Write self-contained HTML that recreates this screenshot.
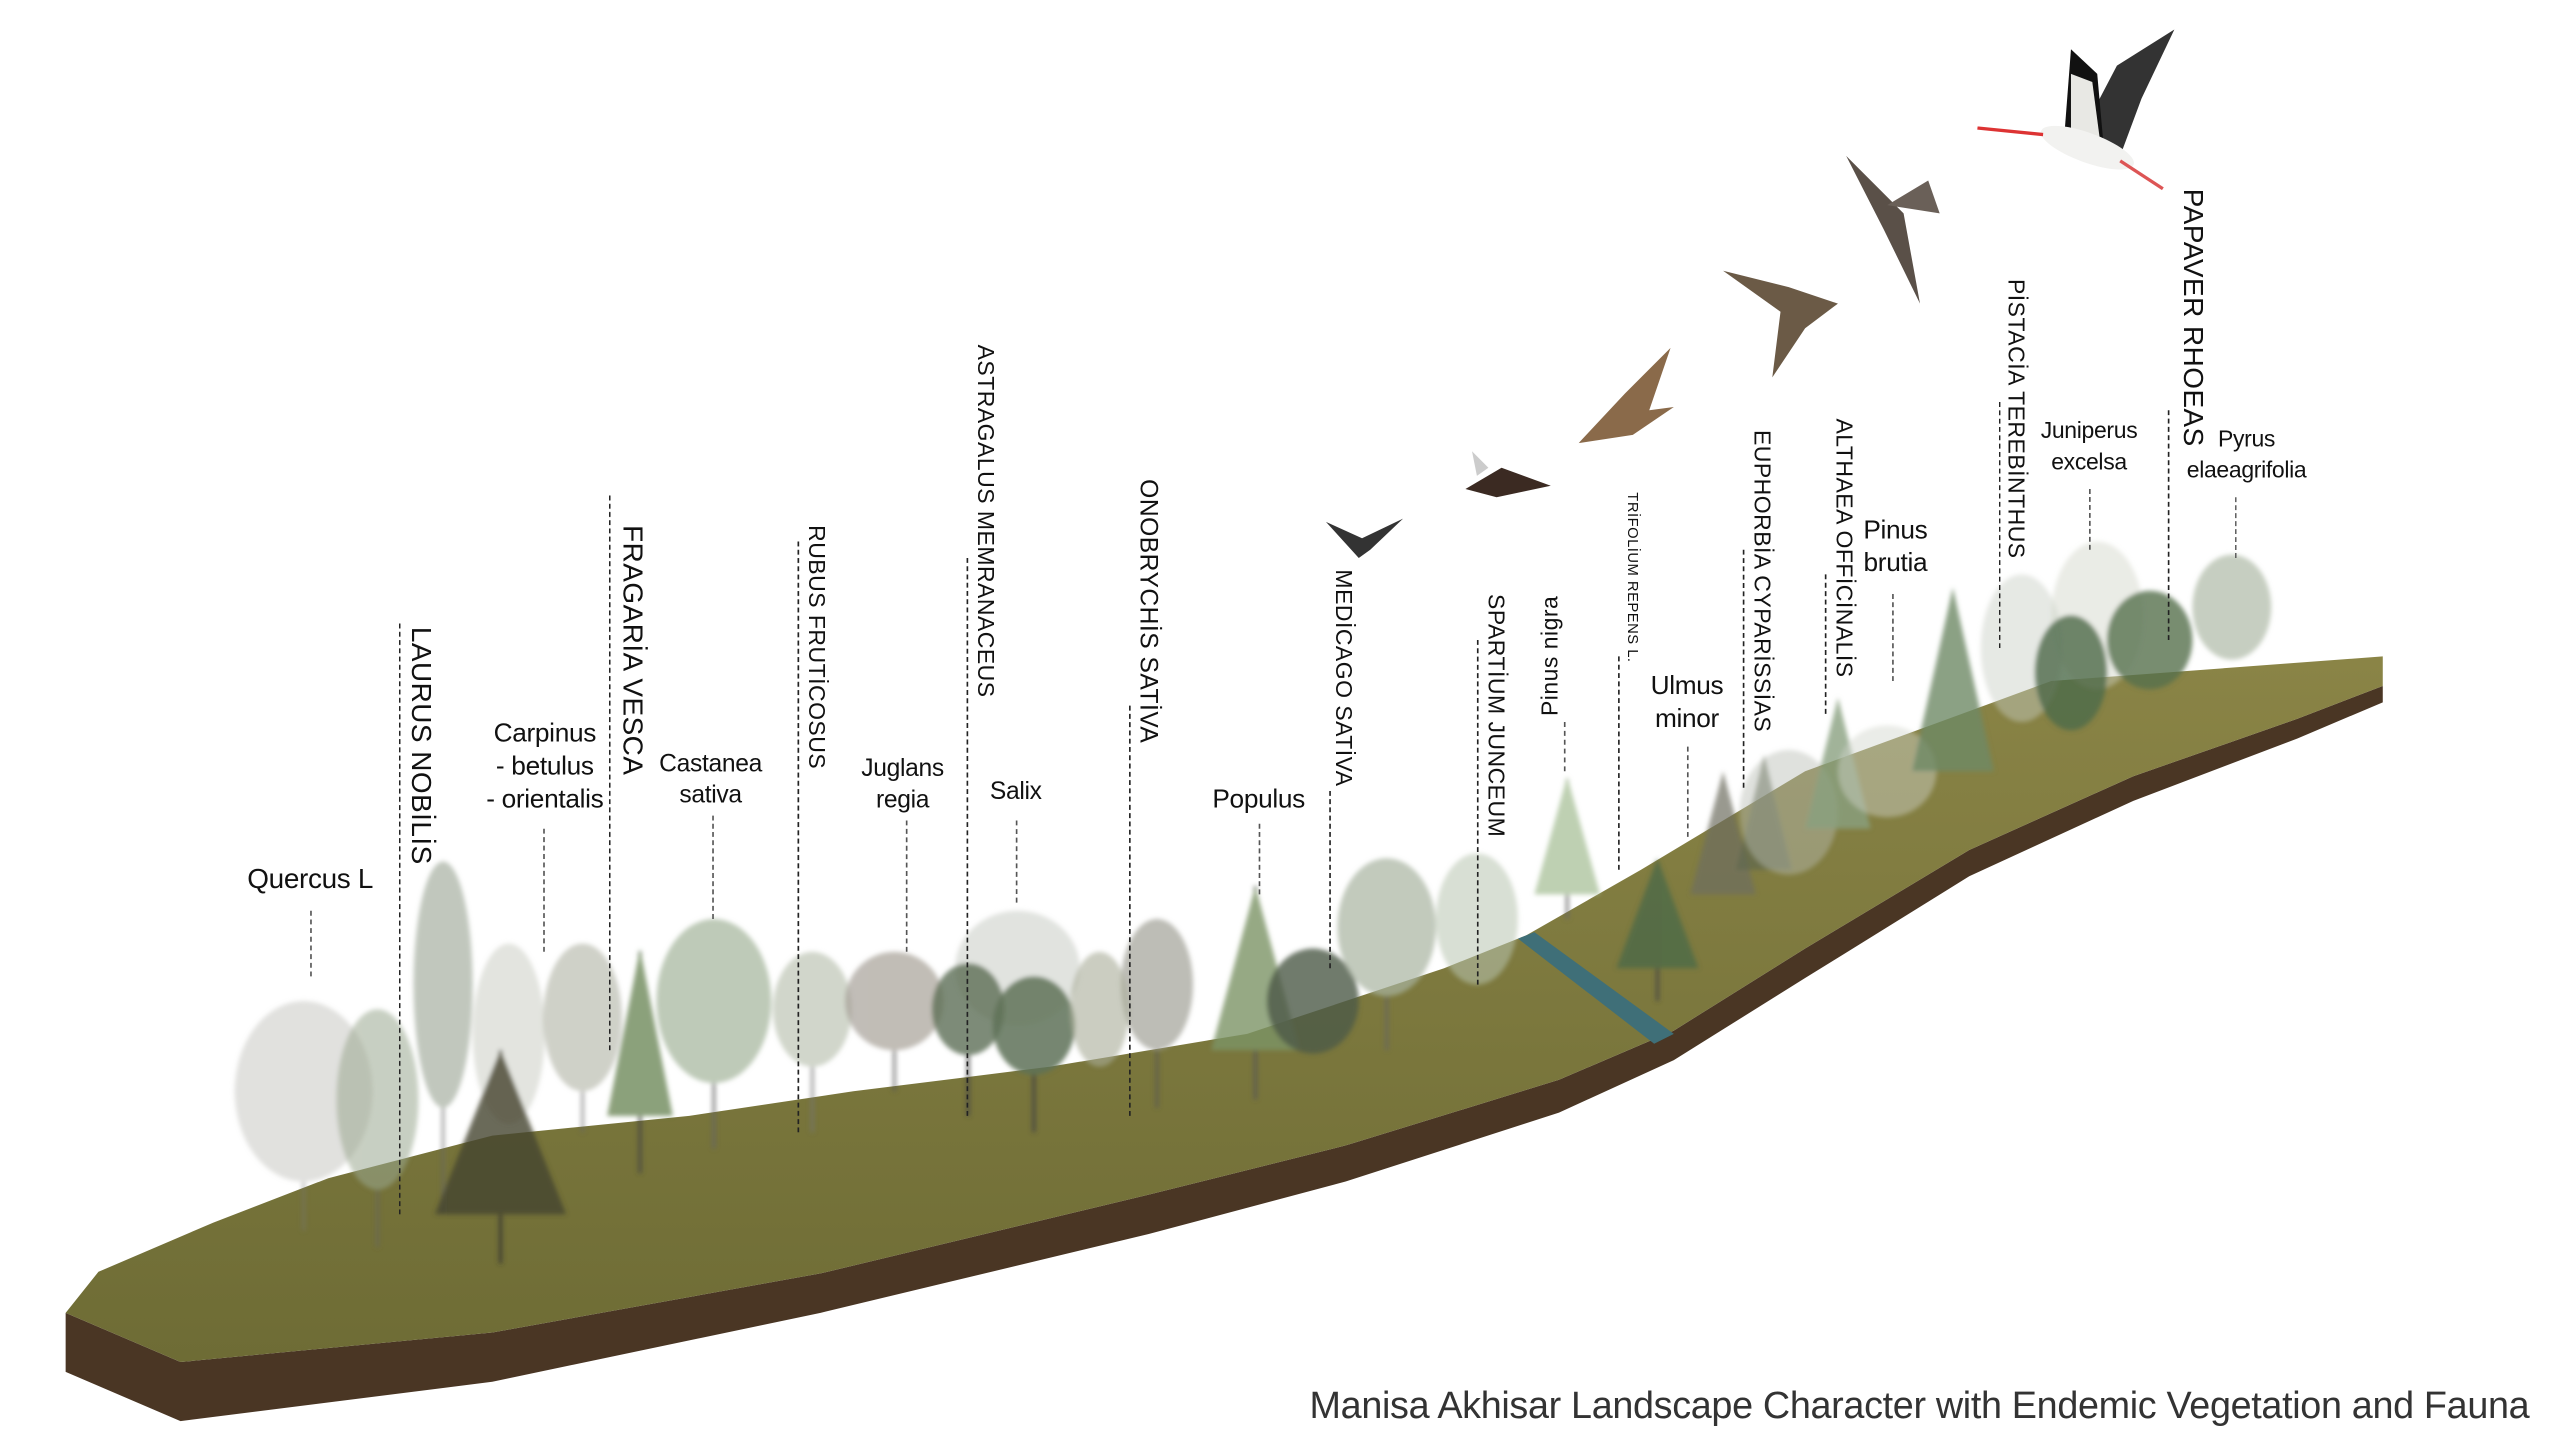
<!DOCTYPE html>
<html><head><meta charset="utf-8"><style>
html,body{margin:0;padding:0;background:#fff;overflow:hidden}
#w{position:absolute;left:0;top:0;width:1560px;height:877.5px;transform:scale(1.641026);transform-origin:0 0;font-family:"Liberation Sans",sans-serif;color:#111}
.h{position:absolute;font-size:15px;line-height:19px;text-align:center;transform:translateX(-50%);white-space:nowrap;letter-spacing:-0.2px}
.v{position:absolute;writing-mode:vertical-rl;font-size:14px;white-space:nowrap;letter-spacing:0.3px}
.d{position:absolute;width:0;border-left:1.2px dashed #222}
.t{position:absolute;border-left:1px dashed #555;width:0}
</style></head><body><div id="w">
<svg width="1560" height="878" viewBox="0 0 1560 878" style="position:absolute;left:0;top:0">
<defs>
<linearGradient id="g" x1="0" y1="0" x2="0" y2="1"><stop offset="0" stop-color="#8a8446"/><stop offset="1" stop-color="#6e6c35"/></linearGradient>
<filter id="b"><feGaussianBlur stdDeviation="1.5"/></filter>
</defs>
<path d="M40,800 L110,830 L300,812 L500,776 L700,728 L820,698 L950,658 L1020,628 L1100,578 L1200,518 L1300,473 L1400,438 L1452,418 L1452,428 L1400,450 L1300,488 L1200,534 L1100,596 L1020,646 L950,678 L820,720 L700,752 L500,800 L300,842 L110,866 L40,836 Z" fill="#4a3624"/>
<path d="M40,800 L60,775 L130,745 L200,718 L300,692 L420,680 L520,665 L640,650 L760,630 L880,590 L930,570 L1000,530 L1100,470 L1250,415 L1452,400 L1452,418 L1400,438 L1300,473 L1200,518 L1100,578 L1020,628 L950,658 L820,698 L700,728 L500,776 L300,812 L110,830 Z" fill="url(#g)"/>
<path d="M925,572 L935,568 L1020,630 L1008,636 Z" fill="#3f6f78"/>
<g filter="url(#b)">
<g opacity=".45"><line x1="185" y1="610" x2="185" y2="750" stroke="#777" stroke-width="2"/><ellipse cx="185" cy="665" rx="42" ry="55" fill="#bdbdb5"/></g>
<g opacity=".55"><line x1="230" y1="620" x2="230" y2="760" stroke="#666" stroke-width="2"/><ellipse cx="230" cy="670" rx="25" ry="55" fill="#9aa890"/></g>
<g opacity=".55"><line x1="270" y1="525" x2="270" y2="740" stroke="#666" stroke-width="2"/><ellipse cx="270" cy="600" rx="18" ry="75" fill="#8e9a88"/></g>
<g opacity=".45"><ellipse cx="310" cy="630" rx="22" ry="55" fill="#c0c4b8"/></g>
<g opacity=".55"><line x1="355" y1="580" x2="355" y2="690" stroke="#666" stroke-width="2"/><ellipse cx="355" cy="620" rx="24" ry="45" fill="#a8ac9c"/></g>
<g opacity=".8"><line x1="305" y1="640" x2="305" y2="770" stroke="#333" stroke-width="2"/><path d="M305,640 L345,740 L265,740 Z" fill="#45442f"/></g>
<g opacity=".8"><line x1="390" y1="580" x2="390" y2="715" stroke="#444" stroke-width="2"/><path d="M390,578 L410,680 L370,680 Z" fill="#6f8a5a"/></g>
<g opacity=".75"><line x1="435" y1="560" x2="435" y2="700" stroke="#666" stroke-width="2"/><ellipse cx="435" cy="610" rx="35" ry="50" fill="#a8b8a0"/></g>
<g opacity=".65"><line x1="495" y1="580" x2="495" y2="690" stroke="#777" stroke-width="2"/><ellipse cx="495" cy="615" rx="24" ry="35" fill="#b8c0b0"/></g>
<g opacity=".65"><line x1="545" y1="580" x2="545" y2="665" stroke="#555" stroke-width="2"/><ellipse cx="545" cy="610" rx="30" ry="30" fill="#a09a90"/></g>
<g opacity=".55"><ellipse cx="620" cy="590" rx="38" ry="35" fill="#c8ccc4"/></g>
<g opacity=".8"><line x1="590" y1="590" x2="590" y2="680" stroke="#444" stroke-width="2"/><ellipse cx="590" cy="615" rx="22" ry="28" fill="#5d6e55"/></g>
<g opacity=".85"><line x1="630" y1="600" x2="630" y2="690" stroke="#444" stroke-width="2"/><ellipse cx="630" cy="625" rx="25" ry="30" fill="#5f7258"/></g>
<g opacity=".65"><line x1="705" y1="560" x2="705" y2="675" stroke="#555" stroke-width="2"/><ellipse cx="705" cy="600" rx="22" ry="40" fill="#9a9a90"/></g>
<g opacity=".6"><ellipse cx="670" cy="615" rx="18" ry="35" fill="#a8ac98"/></g>
<g opacity=".8"><line x1="765" y1="540" x2="765" y2="670" stroke="#555" stroke-width="2"/><path d="M765,540 L792,640 L738,640 Z" fill="#7c9466"/></g>
<g opacity=".8"><ellipse cx="800" cy="610" rx="28" ry="32" fill="#4e5a48"/></g>
<g opacity=".7"><line x1="845" y1="525" x2="845" y2="640" stroke="#666" stroke-width="2"/><ellipse cx="845" cy="565" rx="30" ry="42" fill="#a8b4a0"/></g>
<g opacity=".55"><ellipse cx="900" cy="560" rx="25" ry="40" fill="#b8c4b0"/></g>
<g opacity=".75"><line x1="955" y1="475" x2="955" y2="560" stroke="#666" stroke-width="2"/><path d="M955,473 L975,545 L935,545 Z" fill="#a8c098"/></g>
<g opacity=".8"><line x1="1010" y1="525" x2="1010" y2="610" stroke="#444" stroke-width="2"/><path d="M1010,523 L1035,590 L985,590 Z" fill="#4e6a48"/></g>
<g opacity=".7"><path d="M1050,470 L1070,545 L1030,545 Z" fill="#6e6e60"/></g>
<g opacity=".65"><path d="M1075,460 L1092,530 L1058,530 Z" fill="#5e6650"/></g>
<g opacity=".45"><ellipse cx="1090" cy="495" rx="30" ry="38" fill="#b8bcb4"/></g>
<g opacity=".8"><path d="M1120,425 L1140,505 L1100,505 Z" fill="#8aa080"/></g>
<g opacity=".45"><ellipse cx="1150" cy="470" rx="30" ry="28" fill="#d0d4cc"/></g>
<g opacity=".8"><path d="M1190,358 L1215,470 L1165,470 Z" fill="#6e8a66"/></g>
<g opacity=".45"><ellipse cx="1232" cy="395" rx="25" ry="45" fill="#c8cec4"/></g>
<g opacity=".45"><ellipse cx="1278" cy="375" rx="28" ry="45" fill="#d0d4c8"/></g>
<g opacity=".8"><ellipse cx="1262" cy="410" rx="22" ry="35" fill="#4e6a4a"/></g>
<g opacity=".8"><ellipse cx="1310" cy="390" rx="26" ry="30" fill="#55704e"/></g>
<g opacity=".65"><ellipse cx="1360" cy="370" rx="24" ry="32" fill="#a8b4a0"/></g>
</g>
<g>
<path d="M1268,82 L1290,40 L1325,18 L1305,60 L1292,95 Z" fill="#333"/>
<path d="M1258,82 L1262,30 L1278,45 L1282,90 Z" fill="#111"/>
<path d="M1262,45 L1275,50 L1280,88 L1262,85 Z" fill="#e8e8e4"/>
<ellipse cx="1272" cy="90" rx="30" ry="9" fill="#f2f2f0" transform="rotate(20 1272 90)"/>
<path d="M1205,78 L1245,82" stroke="#d33" stroke-width="2"/>
<path d="M1292,98 L1318,115" stroke="#d55" stroke-width="2"/>
<path d="M1125,95 L1160,130 L1170,185 L1148,140 Z" fill="#5a5048"/>
<path d="M1150,125 L1182,130 L1175,110 Z" fill="#6a6058"/>
<path d="M1050,165 L1090,175 L1120,185 L1100,200 L1080,230 L1085,190 Z" fill="#6b5a46"/>
<path d="M962,270 L990,240 L1018,212 L1005,250 L1020,248 L995,265 Z" fill="#8a6a4a"/>
<path d="M893,298 L915,285 L945,296 L912,303 Z" fill="#3b2a22"/>
<path d="M900,290 L897,275 L907,285 Z" fill="#ccc"/>
<path d="M808,318 L830,328 L855,316 L835,335 L828,340 Z" fill="#333"/>
</g>
</svg>

<div class="h" style="left:189px;top:526px;font-size:17px">Quercus L</div><div class="t" style="left:189px;top:555px;height:40px"></div>
<div class="h" style="left:332px;top:438px;font-size:16px;line-height:20px">Carpinus<br>- betulus<br>- orientalis</div><div class="t" style="left:331px;top:505px;height:75px"></div>
<div class="h" style="left:433px;top:456px">Castanea<br>sativa</div><div class="t" style="left:434px;top:497px;height:63px"></div>
<div class="h" style="left:550px;top:459px">Juglans<br>regia</div><div class="t" style="left:552px;top:500px;height:80px"></div>
<div class="h" style="left:619px;top:473px">Salix</div><div class="t" style="left:619px;top:500px;height:50px"></div>
<div class="h" style="left:767px;top:478px;font-size:16px">Populus</div><div class="t" style="left:767px;top:502px;height:43px"></div>
<div class="h" style="left:1028px;top:409px;font-size:16px;line-height:20px">Ulmus<br>minor</div><div class="t" style="left:1028px;top:455px;height:55px"></div>
<div class="h" style="left:1155px;top:314px;font-size:16px;line-height:20px">Pinus<br>brutia</div><div class="t" style="left:1153px;top:362px;height:53px"></div>
<div class="h" style="left:1273px;top:253px;font-size:14px">Juniperus<br>excelsa</div><div class="t" style="left:1273px;top:298px;height:37px"></div>
<div class="h" style="left:1369px;top:258px;font-size:14px">Pyrus<br>elaeagrifolia</div><div class="t" style="left:1362px;top:303px;height:37px"></div>

<div class="v" style="left:246px;top:382px;font-size:17px">LAURUS NOBİLİS</div><div class="d" style="left:243px;top:380px;height:360px"></div>
<div class="v" style="left:375px;top:320px;font-size:17px">FRAGARİA VESCA</div><div class="d" style="left:371px;top:302px;height:338px"></div>
<div class="v" style="left:490px;top:320px">RUBUS FRUTİCOSUS</div><div class="d" style="left:486px;top:330px;height:360px"></div>
<div class="v" style="left:593px;top:210px">ASTRAGALUS MEMRANACEUS</div><div class="d" style="left:589px;top:340px;height:340px"></div>
<div class="v" style="left:691px;top:292px;font-size:15px">ONOBRYCHİS SATİVA</div><div class="d" style="left:688px;top:430px;height:250px"></div>
<div class="v" style="left:811px;top:347px">MEDİCAGO SATİVA</div><div class="d" style="left:810px;top:482px;height:108px"></div>
<div class="v" style="left:904px;top:362px">SPARTİUM JUNCEUM</div><div class="d" style="left:900px;top:390px;height:210px"></div>
<div class="v" style="left:936px;top:363px;transform:rotate(180deg)">Pinus nigra</div><div class="t" style="left:953px;top:440px;height:30px"></div>
<div class="v" style="left:990px;top:300px;font-size:9px">TRİFOLİUM REPENS L.</div><div class="d" style="left:986px;top:400px;height:130px"></div>
<div class="v" style="left:1066px;top:262px">EUPHORBİA CYPARİSSİAS</div><div class="d" style="left:1062px;top:335px;height:145px"></div>
<div class="v" style="left:1116px;top:255px">ALTHAEA OFFİCİNALİS</div><div class="d" style="left:1112px;top:350px;height:85px"></div>
<div class="v" style="left:1221px;top:170px">PİSTACİA TEREBİNTHUS</div><div class="d" style="left:1218px;top:245px;height:150px"></div>
<div class="v" style="left:1326px;top:115px;font-size:17px">PAPAVER RHOEAS</div><div class="d" style="left:1321px;top:250px;height:140px"></div>

<div style="position:absolute;left:798px;top:843px;font-size:23px;color:#333;white-space:nowrap;letter-spacing:-0.2px">Manisa Akhisar Landscape Character with Endemic Vegetation and Fauna</div>
</div></body></html>
